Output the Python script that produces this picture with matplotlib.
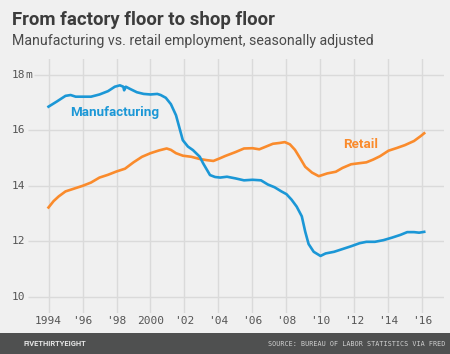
import matplotlib.pyplot as plt
from matplotlib.patches import Rectangle

# ====== data (millions of jobs) ======
mfg_years = [1994.0, 1994.5, 1995.0, 1995.3, 1995.6, 1996.0, 1996.5, 1997.0, 1997.5,
             1997.9, 1998.2, 1998.4, 1998.45, 1998.55, 1998.8, 1999.2, 1999.6, 2000.0,
             2000.4, 2000.6, 2000.9, 2001.2, 2001.5, 2001.9, 2002.2, 2002.5, 2002.9,
             2003.1, 2003.5, 2003.8, 2004.1, 2004.5, 2005.0, 2005.5, 2006.0, 2006.5,
             2006.9, 2007.3, 2007.7, 2008.0, 2008.3, 2008.6, 2008.9, 2009.1, 2009.3,
             2009.6, 2010.0, 2010.3, 2010.8, 2011.3, 2011.8, 2012.3, 2012.7, 2013.2,
             2013.7, 2014.2, 2014.7, 2015.1, 2015.5, 2015.8, 2016.1]
mfg_jobs = [16.86, 17.05, 17.25, 17.28, 17.22, 17.22, 17.22, 17.30, 17.42,
            17.58, 17.63, 17.58, 17.45, 17.58, 17.50, 17.38, 17.32, 17.30,
            17.32, 17.28, 17.18, 16.95, 16.55, 15.65, 15.42, 15.29, 15.05,
            14.81, 14.39, 14.32, 14.30, 14.33, 14.27, 14.20, 14.22, 14.20,
            14.05, 13.95, 13.80, 13.70, 13.50, 13.25, 12.90, 12.35, 11.90,
            11.62, 11.47, 11.56, 11.62, 11.72, 11.82, 11.93, 11.98, 11.98,
            12.04, 12.13, 12.23, 12.33, 12.33, 12.31, 12.34]

retail_years = [1994.0, 1994.3, 1994.6, 1995.0, 1995.5, 1996.0, 1996.5, 1997.0, 1997.5,
                1998.0, 1998.5, 1999.0, 1999.5, 2000.0, 2000.5, 2000.95, 2001.2, 2001.5,
                2001.9, 2002.4, 2002.9, 2003.3, 2003.7, 2004.1, 2004.4, 2005.0, 2005.5,
                2006.0, 2006.4, 2006.8, 2007.2, 2007.6, 2007.9, 2008.2, 2008.5, 2008.8,
                2009.1, 2009.5, 2009.9, 2010.4, 2010.9, 2011.3, 2011.8, 2012.3, 2012.7,
                2013.1, 2013.5, 2014.0, 2014.5, 2014.96, 2015.5, 2015.9, 2016.1]
retail_jobs = [13.22, 13.45, 13.62, 13.80, 13.90, 14.00, 14.12, 14.30, 14.40,
               14.52, 14.62, 14.85, 15.05, 15.18, 15.28, 15.35, 15.30, 15.18,
               15.09, 15.05, 14.97, 14.93, 14.90, 15.00, 15.08, 15.22, 15.35,
               15.36, 15.32, 15.42, 15.52, 15.55, 15.58, 15.50, 15.30, 15.00,
               14.69, 14.48, 14.35, 14.45, 14.51, 14.65, 14.78, 14.82, 14.85,
               14.95, 15.07, 15.27, 15.37, 15.47, 15.62, 15.80, 15.90]

x_ticks = [1994, 1996, 1998, 2000, 2002, 2004, 2006, 2008, 2010, 2012, 2014, 2016]
x_labels = ["1994", "'96", "'98", "2000", "'02", "'04", "'06", "'08", "'10", "'12", "'14", "'16"]
y_ticks = [10, 12, 14, 16, 18]

# ====== style ======
bg = "#f0f0f0"
blue = "#1b97d6"
orange = "#fa8b2c"
grid_c = "#dadada"
W, H = 450, 354

fig = plt.figure(figsize=(W / 100, H / 100), dpi=100, facecolor=bg)
ax = fig.add_axes([28 / W, 1 - 313 / H, (444 - 28) / W, (313 - 59.3) / H])
ax.set_facecolor(bg)
for s in ax.spines.values():
    s.set_visible(False)
ax.set_xlim(1992.794, 2017.265)
ax.set_ylim(9.41, 18.57)
ax.set_xticks([])
ax.set_yticks([])

# grid
for x in x_ticks:
    ax.axvline(x, color=grid_c, lw=1, zorder=1)
for y in y_ticks:
    x0 = 1993.12 if y == 18 else 1992.794
    ax.hlines(y, x0, 2017.265, color=grid_c, lw=1, zorder=1)

ax.plot(retail_years, retail_jobs, color=orange, lw=1.9, zorder=3)
ax.plot(mfg_years, mfg_jobs, color=blue, lw=1.9, zorder=3)

ax.text(1995.26, 16.64, "Manufacturing", color=blue, fontsize=9.6, fontweight="bold",
        family="Roboto", va="center", ha="left")
ax.text(2011.32, 15.51, "Retail", color=orange, fontsize=9.6, fontweight="bold",
        family="Roboto", va="center", ha="left")

# tick labels
tick_kw = dict(family="DejaVu Sans Mono", fontsize=8, color="#555555")
for x, lab in zip(x_ticks, x_labels):
    ax.text(x, -0.033, lab, transform=ax.get_xaxis_transform(), ha="center", va="center", **tick_kw)
for y in y_ticks:
    ax.text(-0.0075, y, str(y), transform=ax.get_yaxis_transform(), ha="right", va="center", **tick_kw)
ax.text(-0.0075, 18, "m", transform=ax.get_yaxis_transform(), ha="left", va="center", **tick_kw)

# titles
fig.text(12 / W, 1 - 20 / H, "From factory floor to shop floor", family="Roboto",
         fontweight="bold", fontsize=13.4, color="#3c3c3c", va="center", ha="left")
fig.text(12 / W, 1 - 41 / H, "Manufacturing vs. retail employment, seasonally adjusted",
         family="Roboto", fontsize=10.2, color="#4a4a4a", va="center", ha="left")

# footer bar
fig.patches.append(Rectangle((0, 0), 1, 21 / H, transform=fig.transFigure,
                             facecolor="#4f5050", edgecolor="none", zorder=0))
fig.text(23 / W, 10.5 / H, "FIVETHIRTYEIGHT", family="Roboto", fontweight="bold",
         fontsize=5.4, color="#e6e6e6", va="center", ha="left")
fig.text(445 / W, 10.5 / H, "SOURCE: BUREAU OF LABOR STATISTICS VIA FRED",
         family="DejaVu Sans Mono", fontsize=4.85, color="#d0d0d0", va="center", ha="right")

fig.savefig("out.png", dpi=100, facecolor=bg)
